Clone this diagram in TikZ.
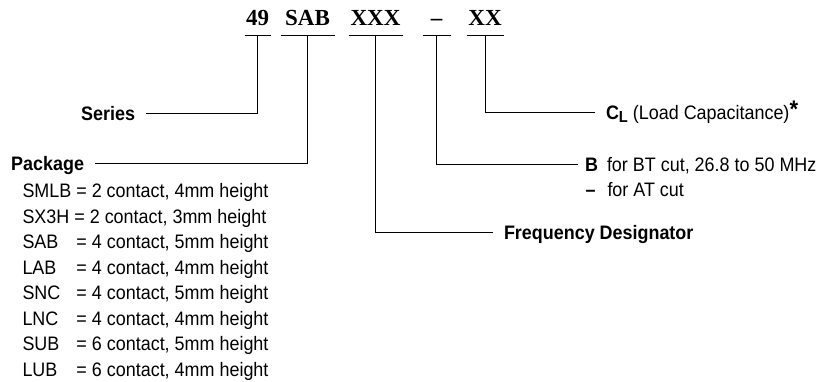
\documentclass[tikz,border=0pt]{standalone}
\usepackage{fontspec}
\setmainfont[FakeStretch=0.92]{Liberation Sans}
\newfontfamily\codefont{Liberation Serif}
\usetikzlibrary{positioning}

\newcommand\pkgname[1]{\makebox[54pt][l]{#1}}

\begin{document}
\begin{tikzpicture}[x=1pt,y=-1pt,line width=1pt,
  every node/.style={font=\fontsize{19.5}{23}\selectfont},
  code/.style={font=\fontsize{23}{26}\selectfont\codefont\bfseries,inner xsep=0pt,inner ysep=9pt,text depth=0pt,anchor=south},
  lab/.style={inner sep=0pt,outer xsep=11pt,text height=14pt,text depth=0pt},
  row/.style={inner sep=0pt,anchor=base west}]
\useasboundingbox (0,0) rectangle (838,381);

% part number
\node[code,minimum width=25pt] (n49) at (257.5,35) {49};
\node[code,minimum width=53pt] (nsab) at (307.5,35) {SAB};
\node[code,minimum width=53pt] (nxxx) at (375.5,35) {XXX};
\node[code,minimum width=27pt] (ncut) at (436.5,35) {\textendash};
\node[code,minimum width=36pt] (nxx) at (485,35) {XX};

% field labels
\node[lab,anchor=east] (series) at (146,113) {\textbf{Series}};
\node[lab,anchor=east] (package) at (95,163) {\textbf{Package}};
\node[lab,anchor=west] (freq) at (493,232) {\textbf{Frequency Designator}};
\node[lab,anchor=west,outer xsep=7pt] (cutbt) at (578,164)
  {\makebox[22pt][l]{\textbf{B}}for BT cut, 26.8 to 50 MHz};
\node[row] (cutat) at (585,196) {\makebox[22pt][l]{\textbf{\textendash}}for AT cut};
\node[lab,anchor=west] (load) at (595,112)
  {\textbf{C\raisebox{-3pt}{\fontsize{16}{16}\selectfont L}} (Load Capacitance)\raisebox{2pt}{\fontsize{24}{24}\selectfont\textbf{*}}};

% package list
\node[row] (psmlb) at (22,197) {SMLB = 2 contact, 4mm height};
\node[row] (psx3h) at (22,223) {SX3H = 2 contact, 3mm height};
\node[row] (psab) at (22,248) {\pkgname{SAB}= 4 contact, 5mm height};
\node[row] (plab) at (22,274) {\pkgname{LAB}= 4 contact, 4mm height};
\node[row] (psnc) at (22,299) {\pkgname{SNC}= 4 contact, 5mm height};
\node[row] (plnc) at (22,325) {\pkgname{LNC}= 4 contact, 4mm height};
\node[row] (psub) at (22,350) {\pkgname{SUB}= 6 contact, 5mm height};
\node[row] (plub) at (22,376) {\pkgname{LUB}= 6 contact, 4mm height};

% underlines and leaders
\draw (n49.south west) -- (n49.south east) (n49.south) |- (series.east);
\draw (nsab.south west) -- (nsab.south east) (nsab.south) |- (package.east);
\draw (nxxx.south west) -- (nxxx.south east) (nxxx.south) |- (freq.west);
\draw (ncut.south west) -- (ncut.south east) (ncut.south) |- (cutbt.west);
\draw (nxx.south west) -- (nxx.south east) (nxx.south) |- (load.west);

\end{tikzpicture}
\end{document}
